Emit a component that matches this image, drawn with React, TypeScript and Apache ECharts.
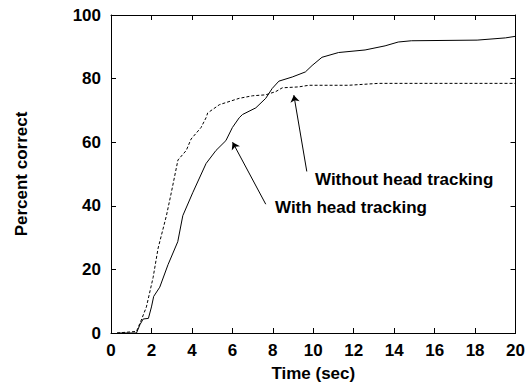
import React, { useEffect, useRef } from "react";
import * as echarts from "echarts";

const withTracking: [number, number][] = [
  [0.3, 0], [1.26, 0], [1.43, 2.6], [1.59, 4.4], [1.85, 4.6], [2.0, 8.2], [2.11, 11.5],
  [2.41, 14.4], [2.82, 21.5], [3.3, 28.7], [3.55, 36.9], [4.04, 44.1], [4.7, 53.3],
  [5.19, 57.4], [5.68, 60.5], [6.0, 64.6], [6.34, 67.7], [6.5, 68.7], [7.16, 70.8],
  [7.65, 73.8], [7.97, 76.9], [8.3, 79.2], [8.96, 80.5], [9.61, 82.1], [9.94, 84.1],
  [10.43, 86.7], [11.25, 88.2], [12.56, 89.0], [13.55, 90.3], [14.2, 91.5], [14.85, 91.9],
  [18.1, 92.1], [19.5, 92.8], [20, 93.3],
];

const withoutTracking: [number, number][] = [
  [0.3, 0], [1.26, 0.5], [1.5, 4.1], [1.75, 8.2], [2.08, 17.4], [2.33, 26.7], [2.74, 36.9],
  [2.98, 44.1], [3.31, 54.4], [3.72, 57.4], [3.96, 61.0], [4.45, 64.6], [4.7, 67.7],
  [4.78, 69.2], [5.36, 71.8], [6.34, 73.8], [7.0, 74.6], [7.65, 74.9], [8.14, 75.9],
  [8.47, 77.1], [9.29, 77.4], [9.78, 77.9], [11.74, 77.9], [13.22, 78.5], [20, 78.5],
];

const arrowWithout: [number, number][] = [[9.68, 50.8], [9.04, 74.8]];
const arrowWith: [number, number][] = [[7.65, 40.5], [6.01, 60.0]];

const labelWithout = "Without head tracking";
const labelWith = "With head tracking";
const xTitle = "Time (sec)";
const yTitle = "Percent correct";

const FONT = "'Liberation Sans', Arial, Helvetica, sans-serif";

export default function App() {
  const ref = useRef<HTMLDivElement>(null);
  useEffect(() => {
    if (!ref.current) return;
    const chart = echarts.init(ref.current, undefined, { renderer: "svg" });
    const axisCommon = {
      axisLine: { show: true, onZero: false, lineStyle: { color: "#000", width: 1 } },
      axisTick: { show: true, inside: true, length: 5, lineStyle: { color: "#000" } },
      splitLine: { show: false },
    };
    const labelStyle = { color: "#000", fontWeight: "bold" as const, fontSize: 17, fontFamily: FONT };
    chart.setOption({
      animation: false,
      backgroundColor: "#fff",
      grid: { left: 111, right: 10, top: 15, bottom: 47, containLabel: false },
      xAxis: [
        {
          type: "value", min: 0, max: 20, interval: 2, position: "bottom",
          ...axisCommon,
          axisLabel: { ...labelStyle, margin: 9 },
          name: xTitle, nameLocation: "middle", nameGap: 32,
          nameTextStyle: { ...labelStyle },
        },
        {
          type: "value", min: 0, max: 20, interval: 2, position: "top",
          ...axisCommon, axisLabel: { show: false },
        },
      ],
      yAxis: [
        {
          type: "value", min: 0, max: 100, interval: 20, position: "left",
          ...axisCommon,
          axisLabel: { ...labelStyle, margin: 10 },
          name: yTitle, nameLocation: "middle", nameGap: 81, nameRotate: 90,
          nameTextStyle: { ...labelStyle },
        },
        {
          type: "value", min: 0, max: 100, interval: 20, position: "right",
          ...axisCommon, axisLabel: { show: false },
        },
      ],
      series: [
        {
          type: "line", name: labelWith, data: withTracking, showSymbol: false,
          lineStyle: { color: "#000", width: 1 }, xAxisIndex: 0, yAxisIndex: 0,
        },
        {
          type: "line", name: labelWithout, data: withoutTracking, showSymbol: false,
          lineStyle: { color: "#000", width: 1, type: [3, 2] }, xAxisIndex: 0, yAxisIndex: 0,
        },
        {
          type: "lines", coordinateSystem: "cartesian2d", xAxisIndex: 0, yAxisIndex: 0,
          symbol: ["none", "arrow"], symbolSize: 7,
          lineStyle: { color: "#000", width: 1, opacity: 1 },
          data: [{ coords: arrowWithout }, { coords: arrowWith }],
        },
      ],
      graphic: [
        {
          type: "text", x: 315, y: 179,
          style: { text: labelWithout, fill: "#000", font: `bold 17px ${FONT}`, verticalAlign: "middle", align: "left" },
        },
        {
          type: "text", x: 275, y: 207,
          style: { text: labelWith, fill: "#000", font: `bold 17px ${FONT}`, verticalAlign: "middle", align: "left" },
        },
      ],
    });
    return () => chart.dispose();
  }, []);
  return <div ref={ref} style={{ width: 528, height: 387, position: "absolute", left: 0, top: 0 }} />;
}
